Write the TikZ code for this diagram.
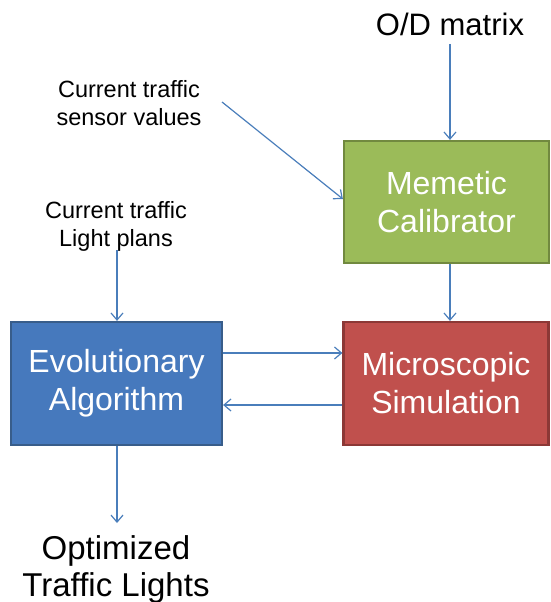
\documentclass[tikz,border=0pt]{standalone}
\usepackage{fontspec}
\setmainfont{Liberation Sans}
\usetikzlibrary{arrows.meta}
\definecolor{gfill}{HTML}{9BBB59}
\definecolor{gdraw}{HTML}{71893F}
\definecolor{bfill}{HTML}{4679BD}
\definecolor{bdraw}{HTML}{385D8A}
\definecolor{rfill}{HTML}{C0504D}
\definecolor{rdraw}{HTML}{8C3836}
\definecolor{arr}{HTML}{4A7EBB}
\begin{document}
\begin{tikzpicture}[x=1pt,y=-1pt,
  box/.style={inner sep=0pt, line width=2.2pt, text=white,
    align=center, font=\fontsize{32}{38}\selectfont},
  lbl/.style={align=center, inner sep=0pt, font=\fontsize{23.5}{28}\selectfont},
  big/.style={align=center, inner sep=0pt, font=\fontsize{33}{37}\selectfont},
  conn/.style={draw=arr, line width=1.2pt, -{Straight Barb[length=7pt,width=12pt]}}]
\useasboundingbox (0,0) rectangle (550,602);
\node[box, fill=gfill, draw=gdraw, minimum width=205pt, minimum height=122pt] (mem) at (446.5,202) {Memetic\\Calibrator};
\node[box, fill=bfill, draw=bdraw, minimum width=211pt, minimum height=123pt] (evo) at (116.5,383.5) {Evolutionary\\Algorithm};
\node[box, fill=rfill, draw=rdraw, minimum width=205pt, minimum height=123pt] (mic) at (446,383.5) {Microscopic\\Simulation};
\node[big, font=\fontsize{31}{37}\selectfont] (od) at (450,24) {O/D matrix};
\node[lbl] (sens) at (129,103) {Current traffic\\sensor values};
\node[lbl] (plan) at (116,226) {Current traffic\\Light plans};
\node[big] (opt) at (116,569) {Optimized\\Traffic Lights};
\coordinate (odb) at (450,44);
\coordinate (sensb) at (222,102);
\coordinate (planb) at (117,250);
\coordinate (optt) at (117,523);
\draw[conn] (odb) -- (odb |- mem.north);
\draw[conn] (sensb) -- (mem.west |- 0,199);
\draw[conn] (planb) -- (planb |- evo.north);
\draw[conn] (mem.south -| 450,0) -- (mic.north -| 450,0);
\draw[conn] (evo.east |- 0,353) -- (mic.west |- 0,353);
\draw[conn] (mic.west |- 0,405) -- (evo.east |- 0,405);
\draw[conn] (evo.south -| 117,0) -- (optt);
\end{tikzpicture}
\end{document}
